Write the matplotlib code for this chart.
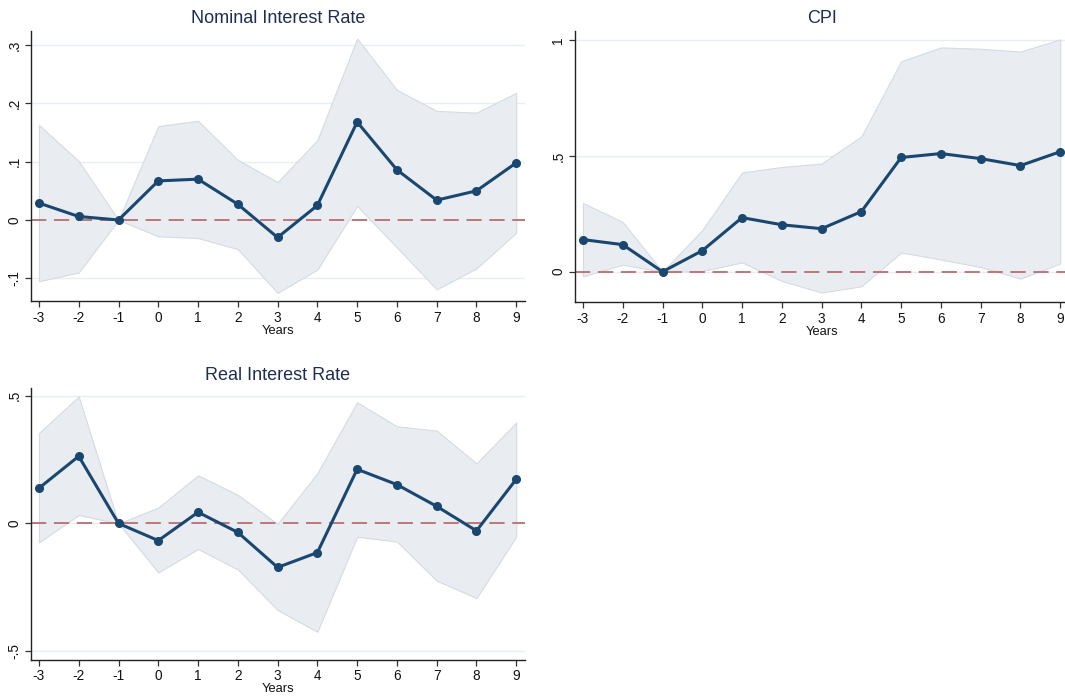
import matplotlib
matplotlib.use("Agg")
import matplotlib.pyplot as plt

plt.rcParams['font.family'] = ['Liberation Sans', 'DejaVu Sans']
plt.rcParams['lines.scale_dashes'] = False

years = [-3, -2, -1, 0, 1, 2, 3, 4, 5, 6, 7, 8, 9]

nominal = [0.029, 0.006, 0.0, 0.067, 0.070, 0.027, -0.030, 0.025, 0.168, 0.086, 0.034, 0.050, 0.098]
nominal_hi = [0.163, 0.101, 0.0, 0.161, 0.170, 0.103, 0.065, 0.137, 0.311, 0.223, 0.187, 0.184, 0.218]
nominal_lo = [-0.105, -0.090, 0.0, -0.028, -0.031, -0.050, -0.125, -0.085, 0.024, -0.047, -0.119, -0.083, -0.022]

cpi = [0.139, 0.117, 0.0, 0.091, 0.234, 0.203, 0.186, 0.260, 0.494, 0.511, 0.489, 0.459, 0.519]
cpi_hi = [0.297, 0.215, 0.0, 0.180, 0.429, 0.453, 0.468, 0.585, 0.910, 0.970, 0.964, 0.952, 1.005]
cpi_lo = [-0.020, 0.030, 0.0, 0.003, 0.040, -0.040, -0.090, -0.063, 0.083, 0.053, 0.020, -0.030, 0.036]

real = [0.138, 0.263, 0.0, -0.067, 0.044, -0.035, -0.172, -0.114, 0.212, 0.152, 0.067, -0.029, 0.173]
real_hi = [0.354, 0.497, 0.0, 0.062, 0.188, 0.112, -0.002, 0.197, 0.474, 0.380, 0.363, 0.235, 0.395]
real_lo = [-0.074, 0.033, 0.0, -0.192, -0.100, -0.180, -0.339, -0.424, -0.052, -0.071, -0.224, -0.292, -0.052]

titles = ["Nominal Interest Rate", "CPI", "Real Interest Rate"]
ytick_vals = [[-0.1, 0, 0.1, 0.2, 0.3], [0, 0.5, 1], [-0.5, 0, 0.5]]
ytick_labels = [["-.1", "0", ".1", ".2", ".3"], ["0", ".5", "1"], ["-.5", "0", ".5"]]
ylims = [(-0.1389, 0.324), (-0.131, 1.041), (-0.5325, 0.530)]
xlabel = "Years"

W, H = 1065, 696
fig = plt.figure(figsize=(W / 100, H / 100), dpi=100)
fig.patch.set_facecolor('white')

# axes boxes in pixels: left, top, right, bottom
boxes = [(31, 31, 525, 301), (575, 31, 1069, 302), (31, 388, 525, 659.5)]

series = [(nominal, nominal_lo, nominal_hi), (cpi, cpi_lo, cpi_hi), (real, real_lo, real_hi)]

NAVY = '#1a476f'
FILL = '#e9edf1'
FILL_EDGE = '#d3dbe3'
REF = '#b86e70'
GRID = '#e6eef0'
TITLE = '#1e2d52'

for i in range(3):
    l, t, r, b = boxes[i]
    ax = fig.add_axes([l / W, 1 - b / H, (r - l) / W, (b - t) / H])
    est, lo, hi = series[i]
    ax.set_xlim(-3.2, 9.22)
    ax.set_ylim(*ylims[i])
    for yv in ytick_vals[i]:
        ax.axhline(yv, color=GRID, lw=1.0, zorder=0)
    ax.fill_between(years, lo, hi, facecolor=FILL, edgecolor=FILL_EDGE, lw=0.8, zorder=1)
    ax.axhline(0, color=REF, lw=1.3, dashes=(11, 5.5), zorder=2)
    ax.plot(years, est, color=NAVY, lw=2.2, marker='o', markersize=5.5, zorder=3, clip_on=False)
    ax.set_xticks(years)
    ax.set_xticklabels([str(y) for y in years])
    ax.set_yticks(ytick_vals[i])
    ax.set_yticklabels(ytick_labels[i], rotation=90, va='center')
    for s in ['top', 'right']:
        ax.spines[s].set_visible(False)
    for s in ['left', 'bottom']:
        ax.spines[s].set_color('#222222')
        ax.spines[s].set_linewidth(1.0)
    ax.tick_params(axis='both', direction='out', length=4, width=0.9, color='#333333',
                   labelsize=9.8, labelcolor='#111111', pad=3)
    ax.set_xlabel(xlabel, fontsize=9.3, color='#111111', labelpad=0)
    ax.set_title(titles[i], fontsize=13, color=TITLE, pad=6)
    ax.set_facecolor('white')

fig.savefig("out.png", dpi=100, facecolor='white')
